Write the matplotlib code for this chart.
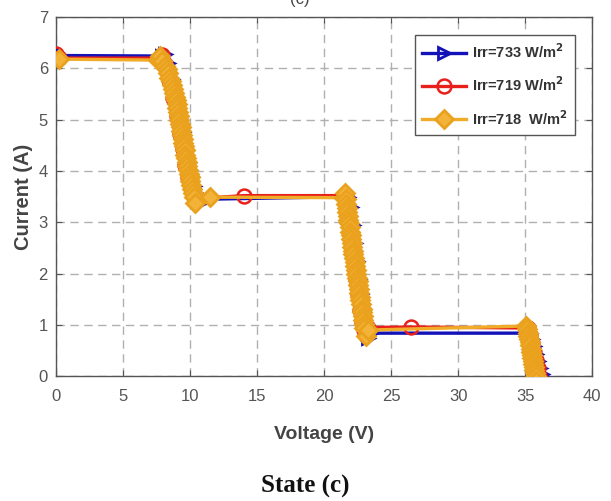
import matplotlib
matplotlib.use("Agg")
import matplotlib.pyplot as plt

# ── data ────────────────────────────────────────────────────────────────────
# Irr = 733 W/m^2 (blue)
v_733 = [0.0, 0.3, 7.9, 8.1, 8.35, 8.65, 8.95, 9.2, 9.45, 9.65, 9.85, 10.05, 10.25, 10.45, 10.6, 10.7,
         11.3, 21.8, 22.0, 22.15, 22.3, 22.45, 22.6, 22.75, 22.9, 23.05, 23.2, 23.3, 23.5,
         35.4, 35.55, 35.7, 35.85, 36.0, 36.15, 36.3, 36.4]
i_733 = [6.32, 6.25, 6.24, 6.28, 6.1, 5.8, 5.45, 5.1, 4.75, 4.45, 4.15, 3.9, 3.7, 3.55, 3.45, 3.42,
         3.45, 3.5, 3.3, 2.95, 2.6, 2.25, 1.9, 1.6, 1.3, 1.05, 0.85, 0.75, 0.84,
         0.84, 0.72, 0.58, 0.44, 0.3, 0.16, 0.04, -0.05]

# Irr = 719 W/m^2 (red)
v_719 = [0.0, 0.2, 7.75, 7.9, 8.15, 8.45, 8.75, 9.0, 9.25, 9.45, 9.65, 9.85, 10.05, 10.25, 10.45,
         14.0, 21.6, 21.75, 21.9, 22.05, 22.2, 22.35, 22.5, 22.65, 22.8, 22.95, 23.1, 23.3,
         26.5, 35.2, 35.35, 35.5, 35.65, 35.8, 35.95, 36.05]
i_719 = [6.28, 6.2, 6.2, 6.26, 6.08, 5.78, 5.42, 5.08, 4.72, 4.42, 4.12, 3.88, 3.68, 3.52, 3.46,
         3.52, 3.52, 3.3, 2.95, 2.6, 2.25, 1.9, 1.6, 1.3, 1.05, 0.9, 0.8, 0.95,
         0.96, 0.94, 0.8, 0.64, 0.48, 0.32, 0.16, 0.0]

# Irr = 718 W/m^2 (yellow)
v_718 = [0.2, 7.6, 7.75, 7.9, 8.1, 8.25, 8.35, 8.45, 8.55, 8.63, 8.7, 8.78, 8.85, 8.92, 8.98,
         9.04, 9.1, 9.15, 9.2, 9.25, 9.3, 9.35, 9.4, 9.45, 9.5, 9.55, 9.6, 9.65, 9.7, 9.75,
         9.8, 9.85, 9.9, 9.95, 10.0, 10.05, 10.1, 10.18, 10.25, 10.35, 11.5,
         21.45, 21.55, 21.6, 21.65, 21.69, 21.72, 21.76, 21.8, 21.85, 21.9, 21.94, 21.98, 22.02,
         22.06, 22.1, 22.15, 22.19, 22.23, 22.28, 22.32, 22.36, 22.4, 22.45, 22.5, 22.54, 22.58,
         22.62, 22.67, 22.71, 22.75, 22.8, 22.84, 22.88, 22.92, 22.96, 23.0, 23.1, 23.3,
         35.1, 35.15, 35.2, 35.25, 35.3, 35.34, 35.38, 35.42, 35.46, 35.5, 35.54, 35.58, 35.62,
         35.66, 35.7, 35.74, 35.78, 35.85]
i_718 = [6.18, 6.16, 6.25, 6.15, 6.05, 5.98, 5.9, 5.82, 5.75, 5.68, 5.6, 5.52, 5.45, 5.38, 5.3,
         5.22, 5.15, 5.08, 5.0, 4.92, 4.85, 4.78, 4.7, 4.62, 4.55, 4.48, 4.4, 4.32, 4.25, 4.18,
         4.1, 4.02, 3.95, 3.88, 3.8, 3.72, 3.65, 3.58, 3.5, 3.38, 3.49,
         3.48, 3.58, 3.45, 3.35, 3.28, 3.2, 3.12, 3.05, 2.98, 2.9, 2.82, 2.75, 2.68,
         2.6, 2.52, 2.45, 2.38, 2.3, 2.22, 2.15, 2.08, 2.0, 1.92, 1.85, 1.78, 1.7,
         1.62, 1.55, 1.48, 1.4, 1.32, 1.25, 1.18, 1.1, 1.02, 0.95, 0.78, 0.9,
         0.98, 0.92, 0.85, 0.78, 0.72, 0.66, 0.6, 0.54, 0.48, 0.42, 0.36, 0.3, 0.24,
         0.18, 0.12, 0.06, 0.0, -0.1]

labels = ["Irr=733 W/m$^\\mathbf{2}$", "Irr=719 W/m$^\\mathbf{2}$", "Irr=718  W/m$^\\mathbf{2}$"]
x_ticks = [0, 5, 10, 15, 20, 25, 30, 35, 40]
y_ticks = [0, 1, 2, 3, 4, 5, 6, 7]
# ───────────────────────────────────────────────────────────────────────────

plt.rcParams.update({
    "font.family": ["Liberation Sans", "DejaVu Sans"],
    "axes.linewidth": 1.0,
    "xtick.direction": "in",
    "ytick.direction": "in",
    "xtick.major.size": 4,
    "ytick.major.size": 4,
})

fig = plt.figure(figsize=(6.11, 5.01), dpi=100)
ax = fig.add_axes([0.092, 0.249, 0.877, 0.717])

ax.plot(v_733, i_733, "->", color="#1212b8", lw=2.4, ms=9, mfc="none", mew=2.0,
        label=labels[0], zorder=3)
ax.plot(v_719, i_719, "-o", color="#e8201c", lw=2.4, ms=10, mfc="none", mew=1.8,
        label=labels[1], zorder=4)
ax.plot(v_718, i_718, "-D", color="#f0ac28", lw=2.4, ms=9, mfc="#f3b238", mec="#eaa11e",
        mew=2.0, label=labels[2], zorder=5)

ax.set_xlim(0, 40)
ax.set_ylim(0, 7)
ax.set_xticks(x_ticks)
ax.set_yticks(y_ticks)
ax.tick_params(colors="#555555", labelsize=12, top=True, right=True)
ax.tick_params(axis="x", pad=9)
ax.tick_params(axis="y", pad=6)
for s in ax.spines.values():
    s.set_color("#555555")

ax.grid(True, color="#b0b0b0", linestyle=(0, (6, 4)), linewidth=1.0)
ax.set_axisbelow(True)

ax.set_xlabel("Voltage (V)", fontsize=14, fontweight="bold", color="#444444", labelpad=16)
ax.set_ylabel("Current (A)", fontsize=14.5, fontweight="bold", color="#444444")
ax.yaxis.set_label_coords(-0.043, 0.5)

leg = ax.legend(loc="upper right", bbox_to_anchor=(0.968, 0.95),
                prop={"weight": "bold", "size": 10.5}, handlelength=3.0, handletextpad=0.4,
                fancybox=False, framealpha=1, edgecolor="#555555",
                borderpad=0.5, labelspacing=1.0, borderaxespad=0.0)
for t in leg.get_texts():
    t.set_color("#333333")

fig.text(0.49, 0.993, "(c)", ha="center", va="baseline", fontsize=12, color="#444444")
fig.text(0.5, 0.006, "State (c)", ha="center", va="bottom", fontsize=18, fontweight="bold",
         family=["Liberation Serif", "DejaVu Serif"], color="#111111")

fig.savefig("out.png", dpi=100)
